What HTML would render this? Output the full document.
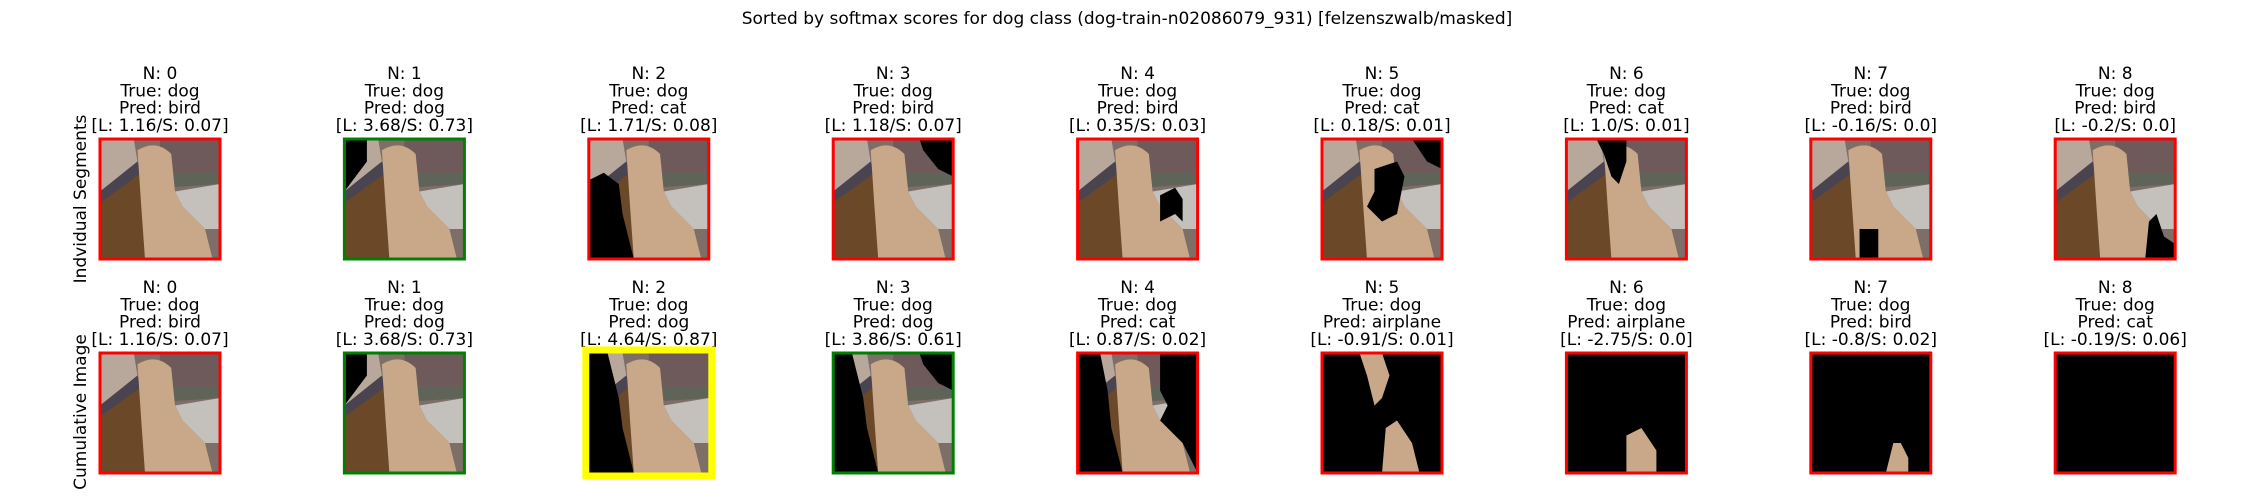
<!DOCTYPE html>
<html><head><meta charset="utf-8">
<style>
html,body{margin:0;padding:0;background:#fff;}
svg{display:block;}
text{font-family:"DejaVu Sans","Liberation Sans",sans-serif;font-size:17px;fill:#000;}
</style></head>
<body>
<svg id="fig" width="2250" height="500" viewBox="0 0 2250 500" xmlns="http://www.w3.org/2000/svg">
<defs>
  <g id="dog-image">
    <rect x="0" y="0" width="32" height="32" fill="#7d6e68"/>
    <polygon points="0,0 9,0 10,6 0,14" fill="#b8a89c"/>
    <polygon points="0,14 10,6 11,9 0,18" fill="#4a4450"/>
    <polygon points="0,17 11,9 12,32 0,32" fill="#6a4828"/>
    <rect x="16" y="0" width="16" height="9" fill="#6e5a5a"/>
    <polygon points="17,9 32,9 32,12 17,13" fill="#5e6458"/>
    <polygon points="20,14 32,12 32,24 28,24 22,18" fill="#c4c0bc"/>
    <path d="M10,3 Q15,0 19,4 L20,14 L22,18 L28,24 L30,32 L12,32 L11,18 Z" fill="#c8a888"/>
  </g>
</defs>
<text x="1127" y="24" text-anchor="middle">Sorted by softmax scores for dog class (dog-train-n02086079_931) [felzenszwalb/masked]</text>
<text transform="translate(86,199) rotate(-90)" text-anchor="middle">Indvidual Segments</text>
<text transform="translate(86,412) rotate(-90)" text-anchor="middle">Cumulative Image</text>
<g id="panels"></g>
</svg>
<script>
// Data
const indices = [0,1,2,3,4,5,6,7,8];
const row1Pred = ["bird","dog","cat","bird","bird","cat","cat","bird","bird"];
const row1L = ["1.16","3.68","1.71","1.18","0.35","0.18","1.0","-0.16","-0.2"];
const row1S = ["0.07","0.73","0.08","0.07","0.03","0.01","0.01","0.0","0.0"];
const row1Border = ["red","green","red","red","red","red","red","red","red"];
const row2Pred = ["bird","dog","dog","dog","cat","airplane","airplane","bird","cat"];
const row2L = ["1.16","3.68","4.64","3.86","0.87","-0.91","-2.75","-0.8","-0.19"];
const row2S = ["0.07","0.73","0.87","0.61","0.02","0.01","0.0","0.02","0.06"];
const row2Border = ["red","green","yellow","green","red","red","red","red","red"];

const NS = "http://www.w3.org/2000/svg";
const root = document.getElementById("panels");
const x0 = 100, step = 244.4, size = 120;
const rowTop = [139, 353];

const masks1 = [[],["0,0 6,0 6,6 0,14"],["0,11 4,9 8,12 9,20 12,32 0,32"],["23,0 32,0 32,10 28,8 24,3"],
  ["22,15 26,13 28,16 28,22 26,20 22,22"],["14,8 20,6 22,10 20,20 16,22 12,18 14,14","24,0 32,0 32,8 28,6"],
  ["8,0 16,0 16,6 14,12 12,10 10,4"],["13,24 18,24 18,32 13,32"],["25,22 27,20 29,26 32,28 32,32 24,32"]];
const masks2 = [[],["0,0 6,0 6,6 0,14"],["0,0 5,0 8,12 9,20 12,32 0,32"],["0,0 5,0 8,12 9,20 12,32 0,32","23,0 32,0 32,10 28,8 24,3"],
  ["0,0 6,0 8,10 9,20 12,32 0,32","22,0 32,0 32,32 28,24 22,18 24,14 22,10"],["ALL"],["ALL"],["ALL"],["ALL"]];
const keep2 = {5:["10,0 16,0 18,6 16,12 14,14 12,6","17,20 20,18 24,24 26,32 16,32"],6:["16,22 20,20 24,26 24,32 16,32"],7:["22,24 24,24 26,28 26,32 20,32"],8:[]};

function addPanel(r, i, pred, L, S, border, masks, keep){
  const left = x0 + i*step, top = rowTop[r];
  const g = document.createElementNS(NS,"g");
  
  
  const lines = ["N: "+indices[i], "True: dog", "Pred: "+pred, "[L: "+L+"/S: "+S+"]"];
  lines.forEach((t,k)=>{
    const tx = document.createElementNS(NS,"text");
    
    
    tx.setAttribute("x", left+size/2);
    tx.setAttribute("y", top-60+k*17.3);
    tx.setAttribute("text-anchor","middle");
    tx.textContent = t;
    g.appendChild(tx);
  });
  const img = document.createElementNS(NS,"g");
  
  
  img.setAttribute("transform", `translate(${left},${top}) scale(${size/32})`);
  const u = document.createElementNS(NS,"use");
  u.setAttribute("href","#dog-image");
  img.appendChild(u);
  masks.forEach(m=>{
    if(m==="ALL"){
      const rc = document.createElementNS(NS,"rect");
      rc.setAttribute("width",32); rc.setAttribute("height",32); rc.setAttribute("fill","#000");
      img.appendChild(rc);
      (keep||[]).forEach(p=>{
        const pg = document.createElementNS(NS,"polygon");
        pg.setAttribute("points",p); pg.setAttribute("fill","#c8a888");
        img.appendChild(pg);
      });
    } else {
      const pg = document.createElementNS(NS,"polygon");
      pg.setAttribute("points",m); pg.setAttribute("fill","#000");
      img.appendChild(pg);
    }
  });
  g.appendChild(img);
  const fr = document.createElementNS(NS,"rect");
  
  
  const colors = {red:"#ff0000",green:"#008000",yellow:"#ffff00"};
  const sw = border==="yellow" ? 7 : 3;
  const off = border==="yellow" ? -3 : 0;
  fr.setAttribute("x", left+off); fr.setAttribute("y", top+off);
  fr.setAttribute("width", size-2*off); fr.setAttribute("height", size-2*off);
  fr.setAttribute("fill","none"); fr.setAttribute("stroke",colors[border]); fr.setAttribute("stroke-width",sw);
  g.appendChild(fr);
  root.appendChild(g);
}
indices.forEach(i=>{
  addPanel(0,i,row1Pred[i],row1L[i],row1S[i],row1Border[i],masks1[i],null);
  addPanel(1,i,row2Pred[i],row2L[i],row2S[i],row2Border[i],masks2[i],keep2[i]);
});
</script>
</body></html>
